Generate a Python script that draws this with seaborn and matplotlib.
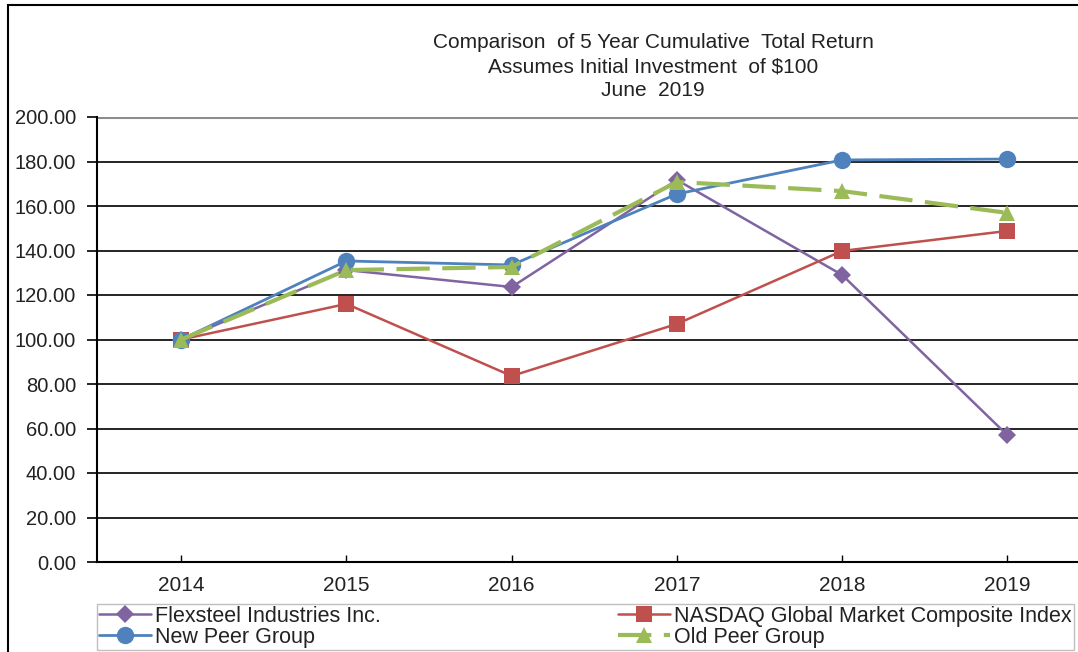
import pandas as pd
import numpy as np
import matplotlib
matplotlib.use('Agg')
import matplotlib.pyplot as plt
import seaborn as sns
from matplotlib.patches import Rectangle
from matplotlib.ticker import FormatStrFormatter

# ─────────────────────────────────────────────
# DATA
# ─────────────────────────────────────────────
years     = [2014, 2015, 2016, 2017, 2018, 2019]
flexsteel = [100.0, 131.2, 123.6, 171.7, 129.0, 57.0]
nasdaq    = [100.0, 116.0, 83.6, 107.0, 139.8, 148.8]
new_peer  = [100.0, 135.3, 133.5, 165.4, 180.7, 181.1]
old_peer  = [100.0, 131.2, 132.6, 170.8, 166.7, 156.9]

names = ['Flexsteel Industries Inc.', 'NASDAQ Global Market Composite Index',
         'New Peer Group', 'Old Peer Group']
df = pd.DataFrame({'Year': years * 4,
                   'Return': flexsteel + nasdaq + new_peer + old_peer,
                   'Series': np.repeat(names, len(years))})

sns.set_theme(style='white')
plt.rcParams['font.family'] = ['Liberation Sans', 'DejaVu Sans']

fig = plt.figure(figsize=(10.78, 6.52), dpi=100)
ax = fig.add_axes([97/1078, 1 - 562/652, 993/1078, 445/652])

styles = {
    names[0]: dict(color='#8064A2', marker='D', markersize=9, lw=1.8, ls='-'),
    names[1]: dict(color='#C0504D', marker='s', markersize=11, lw=1.8, ls='-'),
    names[2]: dict(color='#4F81BD', marker='o', markersize=12.5, lw=2.0, ls='-'),
    names[3]: dict(color='#9BBB59', marker='^', markersize=11, lw=3.0, ls=(0, (8, 3))),
}
handles = {}
for name in names:
    st = styles[name]
    sub = df[df['Series'] == name]
    sns.lineplot(data=sub, x='Year', y='Return', ax=ax, color=st['color'],
                 marker=st['marker'], markersize=st['markersize'],
                 markeredgewidth=0, linewidth=st['lw'], linestyle=st['ls'],
                 label=name, legend=False, zorder=3)
    handles[name] = ax.lines[-1]

ax.set_xlim(2013.49, 2019.5)
ax.set_ylim(0, 200)
ax.set_yticks(np.arange(0, 201, 20))
ax.yaxis.set_major_formatter(FormatStrFormatter('%.2f'))
ax.set_xticks(years)
ax.set_xticklabels([str(y) for y in years])
ax.set_xlabel('')
ax.set_ylabel('')

for v in np.arange(20, 181, 20):
    ax.axhline(v, color='black', lw=1.2, zorder=1)
ax.axhline(200, color='#8c8c8c', lw=2.2, zorder=1)

for s in ['top', 'right']:
    ax.spines[s].set_visible(False)
for s in ['left', 'bottom']:
    ax.spines[s].set_color('black')
    ax.spines[s].set_linewidth(1.5)
    ax.spines[s].set_linestyle((0, (4, 1)))

ax.tick_params(axis='y', direction='out', length=7, width=1.2, color='black',
               labelsize=14.5, pad=8, left=True, labelcolor='#222222')
ax.tick_params(axis='x', direction='in', length=5, width=1.0, color='black',
               labelsize=15, pad=10, bottom=True, labelcolor='#222222')

title_lines = ['Comparison  of 5 Year Cumulative  Total Return',
               'Assumes Initial Investment  of $100',
               'June  2019']
for i, line in enumerate(title_lines):
    fig.text(0.606, 1 - (43 + 24 * i)/652, line, ha='center', va='center',
             fontsize=15, color='#222222')

order = [names[0], names[2], names[1], names[3]]
leg = fig.legend([handles[n] for n in order], order, ncol=2,
                 loc='lower left', mode='expand',
                 bbox_to_anchor=(97/1078, 1 - 650/652, 977/1078, 48/652),
                 fontsize=15.5, frameon=True, fancybox=False, borderpad=0.1,
                 labelspacing=0.0, handlelength=2.4, handletextpad=0.2,
                 columnspacing=1.0, borderaxespad=0)
leg.get_frame().set_edgecolor('#b0b0b0')
leg.get_frame().set_linewidth(1.0)
for t in leg.get_texts():
    t.set_color('#222222')

fig.patches.append(Rectangle((8/1078, -0.05), 1.2, 1 - 5/652 + 0.05,
                             transform=fig.transFigure, fill=False,
                             edgecolor='black', lw=1.5, zorder=0))

plt.savefig('out.png', dpi=100)
plt.close()
print("Saved: out.png")
